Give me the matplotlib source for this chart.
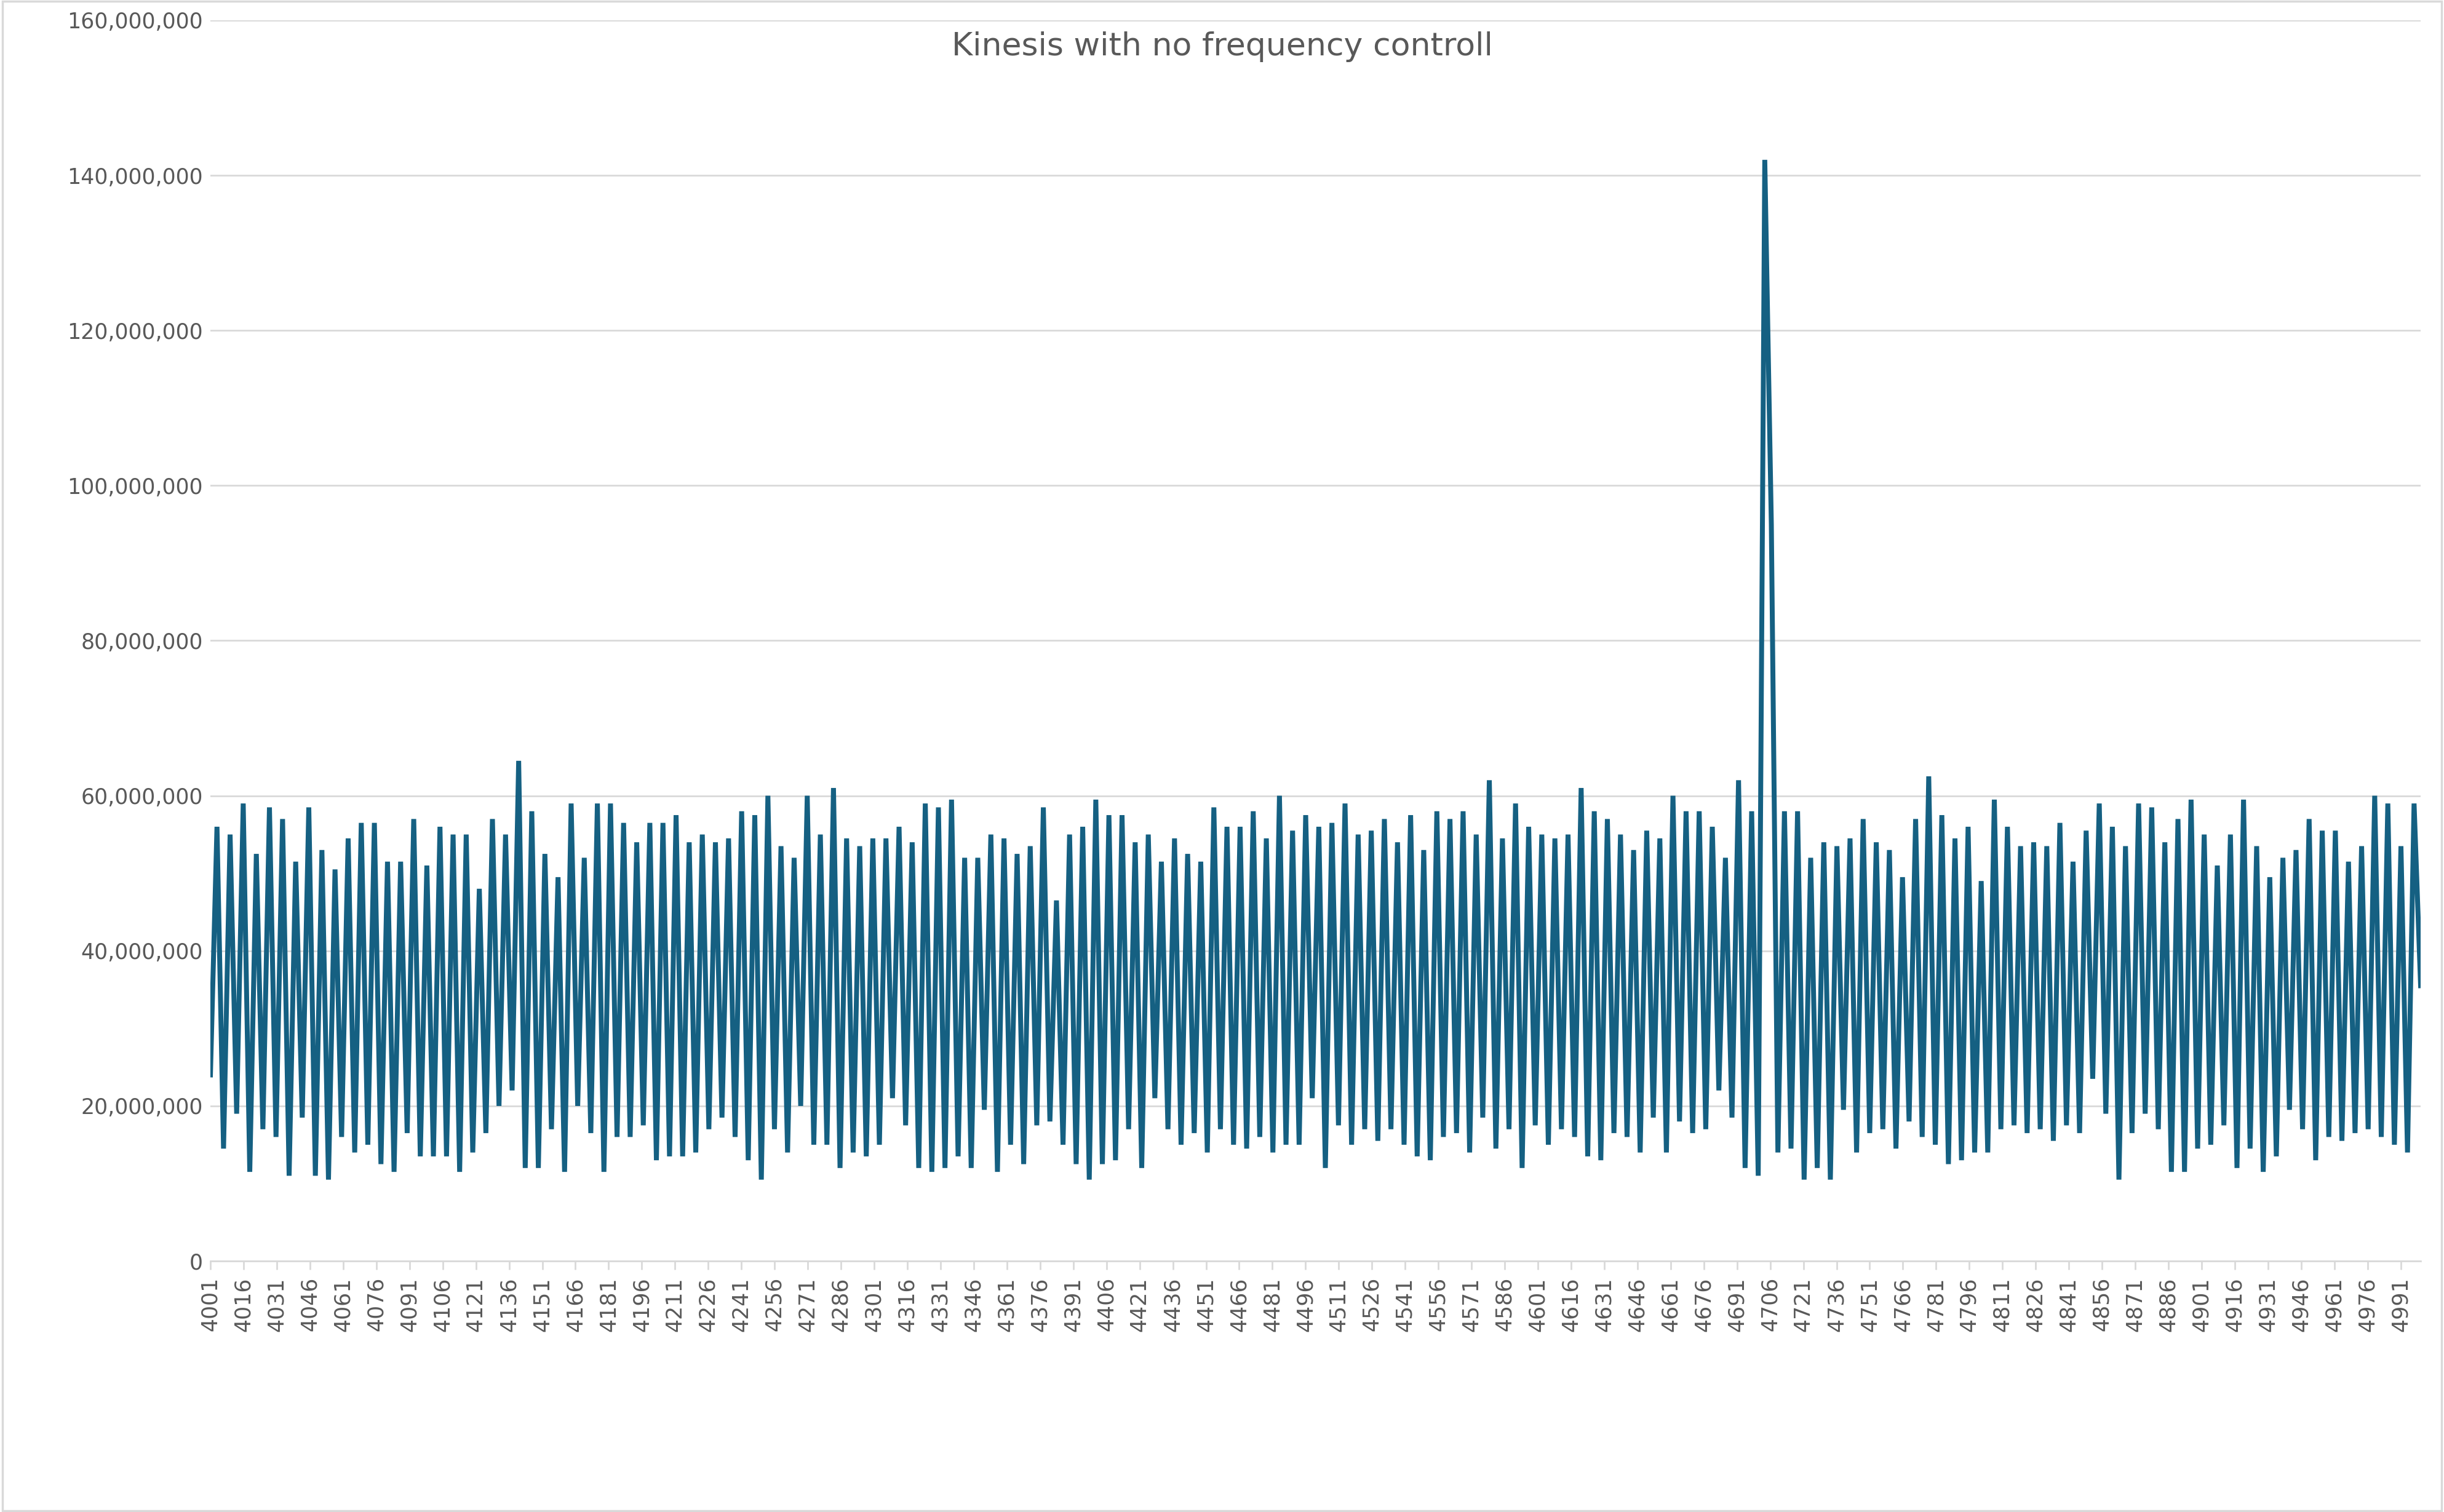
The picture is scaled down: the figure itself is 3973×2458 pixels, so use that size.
import numpy as np
import matplotlib.pyplot as plt

# peak and trough values (millions), in order
peaks = [56, 55, 59, 52.5, 58.5, 57, 51.5, 58.5, 53, 50.5, 54.5, 56.5, 56.5, 51.5, 51.5, 57, 51, 56, 55, 55,
         48, 57, 55, 64.5, 58, 52.5, 49.5, 59, 52, 59, 59, 56.5, 54, 56.5, 56.5, 57.5, 54, 55, 54, 54.5,
         58, 57.5, 60, 53.5, 52, 60, 55, 61, 54.5, 53.5, 54.5, 54.5, 56, 54, 59, 58.5, 59.5, 52, 52, 55,
         54.5, 52.5, 53.5, 58.5, 46.5, 55, 56, 59.5, 57.5, 57.5, 54, 55, 51.5, 54.5, 52.5, 51.5, 58.5, 56, 56, 58,
         54.5, 60, 55.5, 57.5, 56, 56.5, 59, 55, 55.5, 57, 54, 57.5, 53, 58, 57, 58, 55, 62, 54.5, 59,
         56, 55, 54.5, 55, 61, 58, 57, 55, 53, 55.5, 54.5, 60, 58, 58, 56, 52, 62, 58, 142, 58,
         58, 52, 54, 53.5, 54.5, 57, 54, 53, 49.5, 57, 62.5, 57.5, 54.5, 56, 49, 59.5, 56, 53.5, 54, 53.5,
         56.5, 51.5, 55.5, 59, 56, 53.5, 59, 58.5, 54, 57, 59.5, 55, 51, 55, 59.5, 53.5, 49.5, 52, 53, 57,
         55.5, 55.5, 51.5, 53.5, 60, 59, 53.5, 59, 53]
troughs = [14.5, 19, 11.5, 17, 16, 11, 18.5, 11, 10.5, 16, 14, 15, 12.5, 11.5, 16.5, 13.5, 13.5, 13.5, 11.5, 14,
           16.5, 20, 22, 12, 12, 17, 11.5, 20, 16.5, 11.5, 16, 16, 17.5, 13, 13.5, 13.5, 14, 17, 18.5, 16,
           13, 10.5, 17, 14, 20, 15, 15, 12, 14, 13.5, 15, 21, 17.5, 12, 11.5, 12, 13.5, 12, 19.5, 11.5,
           15, 12.5, 17.5, 18, 15, 12.5, 10.5, 12.5, 13, 17, 12, 21, 17, 15, 16.5, 14, 17, 15, 14.5, 16,
           14, 15, 15, 21, 12, 17.5, 15, 17, 15.5, 17, 15, 13.5, 13, 16, 16.5, 14, 18.5, 14.5, 17, 12,
           17.5, 15, 17, 16, 13.5, 13, 16.5, 16, 14, 18.5, 14, 18, 16.5, 17, 22, 18.5, 12, 11, 14, 14.5,
           10.5, 12, 10.5, 19.5, 14, 16.5, 17, 14.5, 18, 16, 15, 12.5, 13, 14, 14, 17, 17.5, 16.5, 17, 15.5,
           17.5, 16.5, 23.5, 19, 10.5, 16.5, 19, 17, 11.5, 11.5, 14.5, 15, 17.5, 12, 14.5, 11.5, 13.5, 19.5, 17, 13,
           16, 15.5, 16.5, 17, 16, 15, 14, 35.5]

values = [24]
for p, t in zip(peaks, troughs):
    values.append(p)
    if p == 142:
        values.append(95)
    values.append(t)
values = np.array(values) * 1e6

n_cat = 1000
x = np.linspace(0, n_cat - 1, len(values))
tick_pos = np.arange(0, n_cat, 15)
tick_labels = [str(4001 + i) for i in tick_pos]

fig = plt.figure(figsize=(15.892, 9.832), dpi=250)
ax = fig.add_axes([135 / 1568, 1 - 809 / 970, (1553 - 135) / 1568, (809 - 13) / 970])
ax.plot(x, values, color="#156082", linewidth=2.3, solid_joinstyle="miter")

ax.set_xlim(0, n_cat - 1)
ax.set_ylim(0, 160e6)
ax.set_yticks(np.arange(0, 160e6 + 1, 20e6))
ax.yaxis.set_major_formatter(plt.FuncFormatter(lambda v, _: f"{int(v):,}"))
ax.set_xticks(tick_pos)
ax.set_xticklabels(tick_labels, rotation=90)
ax.tick_params(axis="both", labelsize=10, colors="#595959", length=0)
ax.tick_params(axis="x", length=4, color="#d9d9d9")
ax.grid(axis="y", color="#d9d9d9", linewidth=0.8)
ax.set_axisbelow(True)
for s in ["top", "right", "left"]:
    ax.spines[s].set_visible(False)
ax.spines["bottom"].set_color("#d9d9d9")

fig.text(0.5, 1 - 30 / 970, "Kinesis with no frequency controll", ha="center", va="center",
         fontsize=15, color="#595959")
fig.patches.append(plt.Rectangle((0.001, 0.001), 0.998, 0.998, transform=fig.transFigure,
                                 fill=False, edgecolor="#d9d9d9", linewidth=1))
fig.savefig("out.png")
